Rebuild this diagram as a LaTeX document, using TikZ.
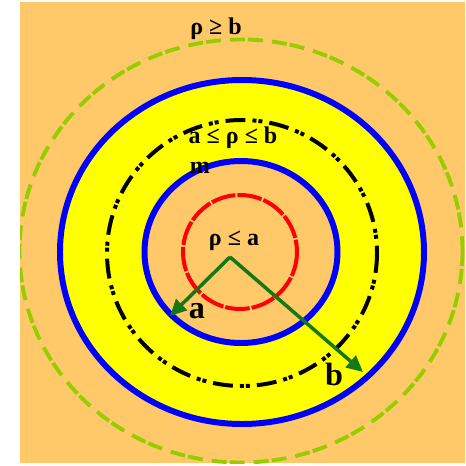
\documentclass[tikz,border=0pt]{standalone}
\usepackage{fontspec}
\setmainfont{Liberation Serif}
\usepackage{tikz}
\usetikzlibrary{arrows.meta}
\definecolor{bgorange}{RGB}{255,200,105}
\definecolor{ringyellow}{RGB}{255,255,0}
\definecolor{ringblue}{RGB}{0,0,255}
\definecolor{ringred}{RGB}{255,0,0}
\definecolor{ringlime}{RGB}{150,205,0}
\definecolor{arrgreen}{RGB}{20,120,20}

\begin{document}
\begin{tikzpicture}[x=0.03cm, y=-0.03cm,
  lbl/.style={font=\fontsize{20.5}{23}\selectfont\bfseries, anchor=base, inner sep=0pt},
  biglbl/.style={font=\fontsize{27.5}{31}\selectfont\bfseries, anchor=base, inner sep=0pt},
  radarrow/.style={arrgreen, line width=3pt, -{Triangle[length=14pt, width=13pt]}}]
\useasboundingbox (0,0) rectangle (466,466);
\fill[bgorange] (20,2) rectangle (465,463);
% outer region boundary
\begin{scope}
\clip (20,2) rectangle (465,463);
\draw[ringlime, line width=3.3pt, dash pattern=on 12.8pt off 2.6pt on 12.8pt off 7.7pt] (241,251) ellipse [x radius=221.5, y radius=211.5];
\end{scope}
% conductor ring
\draw[ringblue, fill=ringyellow, line width=5.1pt] (242,252) ellipse [x radius=182, y radius=172];
\draw[black, line width=3.4pt, dash pattern=on 17pt off 6pt on 3.4pt off 1.7pt on 3.4pt off 6pt] (242,253) ellipse [x radius=135, y radius=133];
\draw[ringblue, fill=bgorange, line width=5.1pt] (241,252) ellipse [x radius=96.5, y radius=91];
\draw[ringred, line width=3.4pt, dash pattern=on 21pt off 1.7pt] (240,252) circle [radius=57];
% radii
\coordinate (o) at (230,257);
\coordinate (ea) at (170,316);
\coordinate (eb) at (363,372);
\draw[radarrow] (o) -- (ea);
\draw[radarrow] (o) -- (eb);
% labels
\node[lbl] (outside) at (216,34) {ρ ≥ b};
\node[lbl] (between) at (233,143) {a ≤ ρ ≤ b};
\node[lbl] (mu) at (200,173) {m};
\node[lbl] (inside) at (234,245) {ρ ≤ a};
\node[biglbl] (la) at (197,318) {a};
\node[biglbl] (lb) at (334,385) {b};
\end{tikzpicture}
\end{document}
